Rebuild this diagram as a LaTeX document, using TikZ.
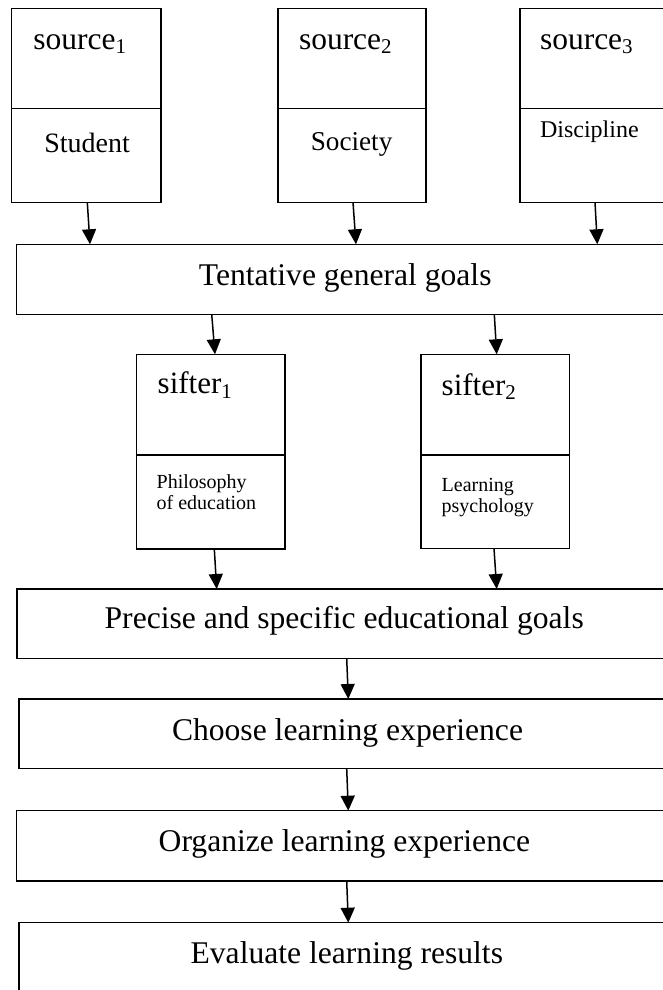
\documentclass[tikz,border=0pt]{standalone}
\usepackage{fontspec}
\setmainfont{Liberation Serif}
\usetikzlibrary{arrows.meta,calc}
\newcommand\subidx[1]{\raisebox{-4.5pt}{\fontsize{21}{21}\selectfont #1}}
\begin{document}
\begin{tikzpicture}[x=1pt,y=-1pt,
  box/.style={draw, line width=1.5pt, rectangle, inner sep=0pt, outer sep=0pt, anchor=north west},
  sep/.style={line width=1.5pt},
  lbl/.style={inner sep=0pt, outer sep=0pt, anchor=base west},
  mid/.style={inner sep=0pt, outer sep=0pt, anchor=base},
  arr/.style={line width=1.5pt, -{Triangle[width=14pt,length=15pt]}},
  big/.style={font=\fontsize{31.6}{36}\selectfont},
  hdr/.style={font=\fontsize{31.5}{36}\selectfont},
  small/.style={font=\fontsize{20}{21}\selectfont}]
\useasboundingbox (0,0) rectangle (663,990);
\fill[white] (0,0) rectangle (663,990);
\clip (0,0) rectangle (663,990);

% source boxes
\node[box, minimum width=149.3pt, minimum height=194pt] (s1) at (11.7,8.3) {};
\node[box, minimum width=148pt, minimum height=194pt] (s2) at (277.8,8.3) {};
\node[box, minimum width=149pt, minimum height=194pt] (s3) at (520,8.3) {};
\draw[sep] ($(s1.north west)+(0,100)$) -- ($(s1.north east)+(0,100)$);
\draw[sep] ($(s2.north west)+(0,100)$) -- ($(s2.north east)+(0,100)$);
\draw[sep] ($(s3.north west)+(0,100)$) -- ($(s3.north east)+(0,100)$);
\node[lbl, hdr] (t1) at (33.3,49.3) {source\subidx{1}};
\node[lbl, hdr] (t2) at (299,49.3) {source\subidx{2}};
\node[lbl, hdr] (t3) at (540,49.3) {source\subidx{3}};
\node[lbl, font=\fontsize{28}{32}\selectfont] (u1) at (44.3,152.3) {Student};
\node[lbl, font=\fontsize{27.2}{32}\selectfont] (u2) at (310.8,150.5) {Society};
\node[lbl, font=\fontsize{24}{28}\selectfont] (u3) at (540,137.5) {Discipline};

% tentative
\node[box, minimum width=656pt, minimum height=70pt] (tent) at (16.7,244.3) {};
\node[mid, big] (tentT) at (345.2,285.3) {Tentative general goals};

% sifters
\node[box, minimum width=148.3pt, minimum height=194.5pt] (f1) at (136.7,354.3) {};
\node[box, minimum width=148.3pt, minimum height=194.2pt] (f2) at (421,354.3) {};
\draw[sep] ($(f1.north west)+(0,100.7)$) -- ($(f1.north east)+(0,100.7)$);
\draw[sep] ($(f2.north west)+(0,100.7)$) -- ($(f2.north east)+(0,100.7)$);
\node[lbl, font=\fontsize{31}{36}\selectfont] (g1) at (157.7,393.5) {sifter\subidx{1}};
\node[lbl, font=\fontsize{31}{36}\selectfont] (g2) at (441.7,395) {sifter\subidx{2}};
\node[lbl, small] (h1a) at (156.7,488.3) {Philosophy};
\node[lbl, small] (h1b) at (156.7,509.3) {of education};
\node[lbl, small] (h2a) at (441.7,491.7) {Learning};
\node[lbl, small] (h2b) at (441.7,512.3) {psychology};

% lower boxes
\node[box, minimum width=656pt, minimum height=69.3pt] (prec) at (16.9,589) {};
\node[mid, big] (precT) at (344.2,628.3) {Precise and specific educational goals};
\node[box, minimum width=654pt, minimum height=69.7pt] (cho) at (19,699) {};
\node[mid, big] (choT) at (347.5,740) {Choose learning experience};
\node[box, minimum width=656pt, minimum height=70.3pt] (org) at (16.7,810.7) {};
\node[mid, big] (orgT) at (344.4,851.7) {Organize learning experience};
\node[box, minimum width=654pt, minimum height=90pt] (eva) at (19,922.7) {};
\node[mid, big] (evaT) at (346.8,963.3) {Evaluate learning results};

% connectors
\draw[arr] ([xshift=75.6pt]s1.south west) -- ([xshift=73.3pt]tent.north west);
\draw[arr] ([xshift=75.2pt]s2.south west) -- ([xshift=339.3pt]tent.north west);
\draw[arr] ([xshift=75pt]s3.south west) -- ([xshift=580.6pt]tent.north west);
\draw[arr] ([xshift=195pt]tent.south west) -- ([xshift=78.3pt]f1.north west);
\draw[arr] ([xshift=477.6pt]tent.south west) -- ([xshift=75.7pt]f2.north west);
\draw[arr] ([xshift=77.6pt]f1.south west) -- ([xshift=199.8pt]prec.north west);
\draw[arr] ([xshift=73pt]f2.south west) -- ([xshift=479.8pt]prec.north west);
\draw[arr] ([xshift=329.8pt]prec.south west) -- ([xshift=329.3pt]cho.north west);
\draw[arr] ([xshift=327.7pt]cho.south west) -- ([xshift=331.6pt]org.north west);
\draw[arr] ([xshift=330pt]org.south west) -- ([xshift=329.3pt]eva.north west);
\end{tikzpicture}
\end{document}
